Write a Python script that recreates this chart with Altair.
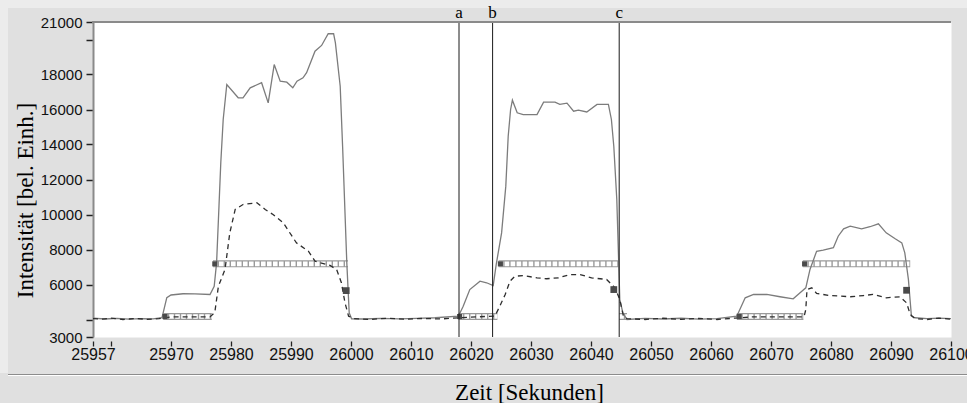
import altair as alt
import pandas as pd

# ---------------- data ----------------
solid_t = [25957, 25959, 25961, 25963, 25965, 25967, 25968.5, 25969.3, 25970, 25972, 25974,
           25976.5, 25977.2, 25977.6, 25978, 25978.3, 25978.7, 25979.3, 25981.2, 25982,
           25983.2, 25985.1, 25986.2, 25987.2, 25988.2, 25989.3, 25990.3, 25991, 25992,
           25992.6, 25994, 25995.1, 25996.2, 25997.1, 25997.4, 25998.2, 25998.6, 25999.3,
           25999.7, 26000.1,
           26002, 26005, 26008, 26011, 26014, 26017.9, 26018.7, 26019.8, 26021.5, 26022.6,
           26023.7, 26024.2, 26025.1, 26025.8, 26026.2, 26026.6, 26026.9, 26027.7, 26028.7,
           26031, 26032.1, 26034, 26034.8, 26036, 26037.1, 26037.9, 26039.3, 26041, 26042.9,
           26043.4, 26043.8, 26044.3, 26044.8, 26045.3, 26046,
           26049, 26052, 26055, 26058, 26061, 26064.3, 26065.7, 26067.1, 26069.3, 26071.5,
           26073.7, 26074.8, 26075.8, 26076.5, 26077.6, 26078.7, 26080.4, 26081.2, 26082.1,
           26083.2, 26085.1, 26086.5, 26087.9, 26089.2, 26090.7, 26091.8, 26092.3, 26092.9,
           26093.4, 26094, 26096, 26098, 26100]
solid_v = [4080, 4030, 4060, 4020, 4050, 4040, 4100, 5250, 5400, 5470, 5460,
           5430, 5900, 7250, 10500, 12970, 15430, 17430, 16670, 16670,
           17240, 17530, 16380, 18570, 17620, 17560, 17240, 17620, 17810,
           18100, 19330, 19660, 20330, 20330, 19810, 17330, 13900, 7250,
           4380, 4040,
           4030, 4060, 4040, 4070, 4100, 4190, 4760, 5710, 6190, 6100,
           5940, 7140, 8950, 11620, 14470, 16000, 16530, 15810, 15710,
           15710, 16420, 16420, 16290, 16360, 15900, 15960, 15860, 16290, 16290,
           15430, 13900, 10860, 5140, 4400, 4000,
           4060, 4030, 4070, 4020, 4050, 4190, 5240, 5430, 5430, 5300,
           5180, 5520, 5810, 6860, 7900, 7960, 8100, 8760, 9180,
           9330, 9180, 9300, 9470, 8950, 8610, 8380, 7810, 6290,
           4190, 4100, 4050, 4080, 4050]

dashed_t = [25957, 25958.5, 25960, 25962, 25964, 25966, 25968, 25970, 25973, 25976.5,
            25977.3, 25977.9, 25979, 25979.8, 25980.7, 25982, 25984.3, 25985.7, 25987,
            25988.7, 25990.9, 25992.9, 25994, 25996.5, 25997.6, 25998.4, 25999, 25999.6,
            26000.5, 26003, 26006, 26009, 26012, 26015, 26018, 26021, 26024,
            26024.8, 26025.7, 26026.5, 26027.3, 26028.7, 26031, 26032.6, 26034.6, 26036.5,
            26038.2, 26040.1, 26042.6, 26044, 26044.8, 26045.4, 26046,
            26049, 26052, 26055, 26058, 26061, 26064, 26067, 26070, 26073, 26075.5,
            26075.8, 26076, 26076.8, 26077.6, 26079.8, 26083.2, 26085.4, 26087, 26089.2,
            26091.5, 26092.6, 26093.2, 26094, 26096, 26098, 26100]
dashed_v = [4050, 4020, 4080, 4000, 4060, 4010, 4050, 4150, 4150, 4150,
            4400, 5900, 6860, 8950, 10290, 10570, 10670, 10290, 10000,
            9530, 8380, 7900, 7330, 7090, 6860, 6100, 4950, 4190,
            4050, 4000, 4070, 4020, 4060, 4030, 4100, 4150, 4200,
            4760, 5430, 6190, 6470, 6510, 6380, 6330, 6380, 6570,
            6570, 6380, 6290, 5810, 5140, 4190, 4050,
            4000, 4070, 4010, 4060, 4000, 4080, 4150, 4150, 4150, 4150,
            4570, 5710, 5810, 5490, 5370, 5300, 5370, 5430, 5240,
            5300, 4950, 4290, 4050, 4000, 4080, 4020]

bar_start = [25968.7, 26017.9, 26044.7, 26064.3, 25977.0, 26024.6, 26075.3]
bar_end = [25976.8, 26024.4, 26046.0, 26075.4, 25999.5, 26044.6, 26093.2]
bar_level = [4170, 4170, 4170, 4170, 7180, 7180, 7180]

start_mark_t = [25969.0, 26018.1, 26064.7, 25977.3, 26024.9, 26075.6]
start_mark_v = [4170, 4170, 4170, 7180, 7180, 7180]

end_mark_t = [25999.2, 26043.8, 26092.6]
end_mark_v = [5650, 5710, 5670]

cursor_t = [26018.0, 26023.6, 26044.7]
cursor_label = ["a", "b", "c"]

x_tick_values = [25957, 25960, 25970, 25980, 25990, 26000, 26010, 26020, 26030,
                 26040, 26050, 26060, 26070, 26080, 26090, 26100]
y_tick_values = [3000, 4000, 6000, 8000, 10000, 12000, 14000, 16000, 18000, 20000, 21000]

# ---------------- tables ----------------
solid_df = pd.DataFrame({"t": solid_t, "v": solid_v})
dashed_df = pd.DataFrame({"t": dashed_t, "v": dashed_v})
bars_df = pd.DataFrame({"t": bar_start, "t2": bar_end, "v": bar_level})
start_df = pd.DataFrame({"t": start_mark_t, "v": start_mark_v})
end_df = pd.DataFrame({"t": end_mark_t, "v": end_mark_v})
cursor_df = pd.DataFrame({"t": cursor_t, "label": cursor_label})
one = alt.Data(values=[{"k": 0}])

W, H = 858, 315
x_scale = alt.Scale(domain=[25957, 26100], nice=False, zero=False)
y_scale = alt.Scale(domain=[3000, 21000], nice=False, zero=False)

x_axis = alt.Axis(values=x_tick_values, format="d",
                  labelExpr="datum.value == 25960 ? '' : datum.label",
                  domain=False, ticks=True, tickSize=5, tickColor="#222222", tickWidth=1.3,
                  offset=4, labelPadding=0, labelFlush=False, labelOverlap=False,
                  labelFont="Liberation Sans", labelFontSize=16, labelColor="#111111",
                  grid=False, titleFont="Liberation Serif", titleFontSize=23,
                  titleFontWeight="normal", titleColor="#000000",
                  titleX=436, titleY=51, titleAlign="center", titleBaseline="middle")
y_axis = alt.Axis(values=y_tick_values,
                  labelExpr="(datum.value == 4000 || datum.value == 20000) ? '' : datum.label",
                  format="d", domain=True, domainColor="#8a8a8a", domainWidth=2,
                  ticks=True, tickSize=7, tickColor="#222222", tickWidth=1.5,
                  labelPadding=4, labelFlush=False, labelOverlap=False,
                  labelFont="Liberation Sans", labelFontSize=15, labelColor="#111111",
                  grid=False, titleFont="Liberation Serif", titleFontSize=23,
                  titleFontWeight="normal", titleColor="#000000", titleAngle=270,
                  titleX=-68, titleY=178, titleAlign="center", titleBaseline="middle")

XT = "Zeit [Sekunden]"
YT = "Intensität [bel. Einh.]"


def X(f):
    return alt.X(f, type="quantitative", scale=x_scale, axis=x_axis, title=XT)


def Y(f):
    return alt.Y(f, type="quantitative", scale=y_scale, axis=y_axis, title=YT)


# ---------------- decorations (frame of the panel) ----------------
top_strip = alt.Chart(one).mark_rect(color="#ececec").encode(
    x=alt.value(-93), x2=alt.value(874), y=alt.value(-22), y2=alt.value(-14))
left_strip = alt.Chart(one).mark_rect(color="#ececec").encode(
    x=alt.value(-93), x2=alt.value(-85), y=alt.value(-22), y2=alt.value(351))
sep_dark = alt.Chart(one).mark_rule(color="#8c8c8c", strokeWidth=1).encode(
    x=alt.value(-85), x2=alt.value(874), y=alt.value(352.5))
sep_light = alt.Chart(one).mark_rule(color="#ffffff", strokeWidth=1).encode(
    x=alt.value(-85), x2=alt.value(874), y=alt.value(353.5))
top_border = alt.Chart(one).mark_rule(color="#8a8a8a", strokeWidth=2).encode(
    x=alt.value(-1), x2=alt.value(W), y=alt.value(0))

# ---------------- data layers ----------------
bar_outline = alt.Chart(bars_df).mark_rule(color="#9a9a9a", strokeWidth=7, strokeCap="butt").encode(
    x=X("t"), x2="t2", y=Y("v"))
bar_inner = alt.Chart(bars_df).mark_rule(color="#ffffff", strokeWidth=4.6, strokeCap="butt",
                                         strokeDash=[4.6, 1.4]).encode(
    x=X("t"), x2="t2", y=Y("v"))

solid = alt.Chart(solid_df).mark_line(color="#7c7c7c", strokeWidth=1.3).encode(
    x=X("t"), y=Y("v"))
dashed = alt.Chart(dashed_df).mark_line(color="#2e2e2e", strokeWidth=1.3,
                                        strokeDash=[5, 4]).encode(
    x=X("t"), y=Y("v"))

start_marks = alt.Chart(start_df).mark_square(size=26, color="#4a4a4a", opacity=1).encode(
    x=X("t"), y=Y("v"))
end_marks = alt.Chart(end_df).mark_square(size=46, color="#4a4a4a", opacity=1).encode(
    x=X("t"), y=Y("v"))

cursors = alt.Chart(cursor_df).mark_rule(color="#1a1a1a", strokeWidth=1).encode(
    x=X("t"))
cursor_text = alt.Chart(cursor_df).mark_text(font="Liberation Serif", fontSize=17,
                                             color="#000000", baseline="alphabetic",
                                             align="center").encode(
    x=X("t"), y=alt.value(-4), text="label:N")

chart = alt.layer(
    top_strip, left_strip, sep_dark, sep_light,
    bar_outline, bar_inner, solid, dashed, start_marks, end_marks,
    cursors, top_border, cursor_text
).properties(
    width=W, height=H,
    autosize=alt.AutoSizeParams(type="none"),
    padding={"left": 93, "top": 22, "right": 16, "bottom": 66},
    background="#e0e0e0"
).configure_view(
    fill="#ffffff", stroke="transparent"
)

chart.save("out.html", embed_options={"renderer": "svg", "actions": False})
